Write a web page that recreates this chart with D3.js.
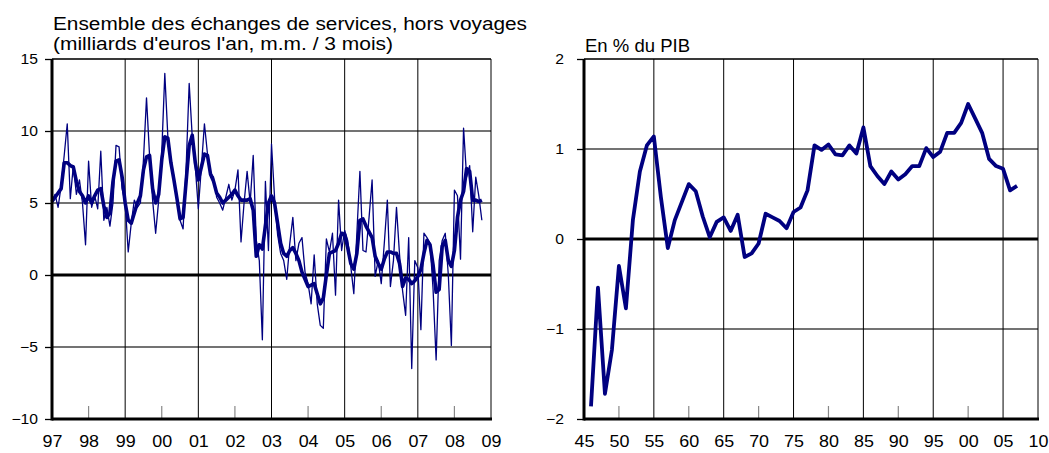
<!DOCTYPE html>
<html>
<head>
<meta charset="utf-8">
<script src="https://cdn.jsdelivr.net/npm/d3@7"></script>
<style>
  body { margin: 0; background: #fff; }
  svg text { font-family: "Liberation Sans", Arial, sans-serif; fill: #000; }
</style>
</head>
<body>
<svg id="chart" width="1049" height="453"></svg>
<script>
// monthly values, jan 1997 -> oct 2008 (milliards d'euros l'an)
var monthlyRaw = [
  5.1, 5.6, 4.7, 6.2, 8.3, 10.5, 5.3, 7.6, 5.6, 6.6, 5.0, 2.1,
  7.9, 4.7, 5.5, 4.6, 8.6, 3.8, 4.7, 3.4, 5.0, 9.0, 8.9, 6.0,
  5.0, 1.6, 3.6, 5.2, 4.7, 5.0, 8.0, 12.3, 8.3, 5.2, 2.9, 5.2,
  8.5, 14.0, 9.6, 8.0, 6.8, 5.2, 3.8, 3.2, 7.5, 13.3, 9.6, 7.5,
  4.6, 7.5, 10.5, 8.4, 7.1, 6.8, 5.4, 5.0, 4.5, 5.4, 6.3, 5.2,
  5.9, 7.3, 2.3, 5.0, 7.2, 5.0, 8.3, 2.4, 1.0, -4.5, 6.5, 1.7,
  9.1, 5.4, 2.8, 1.5, 1.0, -0.3, 2.2, 4.0, 1.0, 2.2, 2.6, 0.2,
  -0.6, -2.0, 1.4, -2.0, -3.5, -3.7, 2.5, 1.6, 2.9, -1.4, 5.2, 1.7,
  3.1, 2.4, 0.6, -1.3, 2.9, 7.2, 1.7, 1.6, 4.0, 6.6, -0.1, 1.0,
  -0.6, 2.2, 5.2, -0.8, 1.0, 4.7, 1.4, -1.1, -2.8, 2.6, -6.5, 1.0,
  0.5, -3.8, 2.9, 2.6, 2.2, -1.0, -5.9, 1.0, 2.4, 2.9, 0.0, -4.9,
  5.9, 5.5, 1.1, 10.2, 6.8, 7.6, 3.0, 6.8, 5.5, 3.8
];

// m.m. / 3 mois
var movingAvg = [
  5.1, 5.4, 5.7, 6.0, 7.8, 7.8, 7.6, 7.5, 6.5, 5.8, 5.5, 5.0,
  5.5, 5.0, 5.5, 5.9, 6.0, 4.8, 4.0, 4.3, 6.5, 7.9, 8.0, 6.8,
  5.0, 3.8, 3.6, 4.3, 5.0, 5.5, 7.3, 8.2, 8.3, 6.0, 5.0, 5.6,
  8.0, 9.6, 9.5, 7.8, 6.6, 5.3, 3.9, 4.0, 6.5, 9.0, 9.7, 7.8,
  6.6, 7.5, 8.4, 8.3, 7.0, 6.5, 5.7, 5.4, 5.0, 5.2, 5.4, 5.6,
  5.9, 5.5, 5.2, 5.2, 5.2, 5.3, 4.5, 1.3, 2.1, 1.8, 3.4, 5.0,
  5.5, 5.0, 3.6, 2.2, 1.5, 1.3, 1.7, 1.9, 1.5, 1.0, 0.2, -0.3,
  -0.8, -0.7, -0.6, -1.3, -2.0, -1.6, 0.0, 1.5, 1.6, 1.7, 2.2, 2.9,
  2.8, 1.9, 0.8, 0.4, 1.5, 3.8, 3.9, 3.4, 3.0, 2.6, 1.3, 0.8,
  0.4, 1.1, 1.6, 1.6, 1.5, 1.5, 0.8, -0.8, -0.2, -0.3, -0.6, -0.4,
  -0.1, 0.4, 1.5, 2.4, 2.1, 0.7, -1.2, -1.0, 2.0, 2.4, 1.0, 0.6,
  1.7, 4.0, 5.2, 5.8, 7.4, 7.2, 5.2, 5.2, 5.1, 5.2
];

// annual, en % du PIB, 1946 -> 2007
var pibYears = d3.range(1946, 2008);
var pibShare = [
  -1.86, -0.54, -1.72, -1.23, -0.30, -0.77, 0.21, 0.75, 1.04, 1.14,
  0.47, -0.10, 0.21, 0.41, 0.61, 0.53, 0.25, 0.02, 0.19, 0.24,
  0.09, 0.27, -0.20, -0.16, -0.05, 0.28, 0.24, 0.20, 0.12, 0.30,
  0.35, 0.54, 1.04, 0.99, 1.05, 0.94, 0.93, 1.04, 0.95, 1.24,
  0.81, 0.70, 0.61, 0.75, 0.66, 0.72, 0.81, 0.81, 1.01, 0.91,
  0.97, 1.18, 1.18, 1.29, 1.50, 1.34, 1.18, 0.89, 0.81, 0.78,
  0.54, 0.59
];

var leftYears = d3.range(1997, 2010);
var leftYearLabels = ["97","98","99","00","01","02","03","04","05","06","07","08","09"];
var leftYTicks = [-10, -5, 0, 5, 10, 15];
var rightYears = d3.range(1945, 2011, 5);
var rightYearLabels = ["45","50","55","60","65","70","75","80","85","90","95","00","05","10"];
var rightYTicks = [-2, -1, 0, 1, 2];

var svg = d3.select("svg#chart");
var navy = "#000080";
var stretch = 1.12; // the reference text is a bit wider than plain Arial

//scales
var xL = d3.scaleLinear().domain([1997, 2009]).range([52, 491]);
var yL = d3.scaleLinear().domain([-10, 15]).range([419, 59]);
var xR = d3.scaleLinear().domain([1945, 2010]).range([584, 1038]);
var yR = d3.scaleLinear().domain([-2, 2]).range([419, 59]);

function drawFrame(x, y, yTicks, years, labels, gridYears, shortYears, padY) {
  var g = svg.append("g");
  var x0 = x.range()[0], x1 = x.range()[1];
  var y0 = y.range()[0], y1 = y.range()[1];

  // horizontal grid
  g.selectAll("line.hg").data(yTicks.filter(function(d) { return d != 0 && y(d) != y0; }))
    .enter().append("line")
    .attr("x1", x0).attr("x2", x1)
    .attr("y1", function(d) { return y(d); }).attr("y2", function(d) { return y(d); })
    .attr("stroke", "#444").attr("stroke-width", 1.3);

  // vertical grid
  g.selectAll("line.vg").data(gridYears)
    .enter().append("line")
    .attr("x1", function(d) { return x(d); }).attr("x2", function(d) { return x(d); })
    .attr("y1", y1).attr("y2", y0)
    .attr("stroke", "#000").attr("stroke-width", 1);

  // short ticks from the bottom
  g.selectAll("line.st").data(shortYears)
    .enter().append("line")
    .attr("x1", function(d) { return x(d); }).attr("x2", function(d) { return x(d); })
    .attr("y1", y0 - 13).attr("y2", y0)
    .attr("stroke", "#888").attr("stroke-width", 1.2);

  // top and right border
  g.append("line").attr("x1", x0).attr("x2", x1).attr("y1", y1).attr("y2", y1)
    .attr("stroke", "#000").attr("stroke-width", 1);
  g.append("line").attr("x1", x1).attr("x2", x1).attr("y1", y1).attr("y2", y0)
    .attr("stroke", "#000").attr("stroke-width", 1);

  // zero line
  g.append("line").attr("x1", x0).attr("x2", x1).attr("y1", y(0)).attr("y2", y(0))
    .attr("stroke", "#000").attr("stroke-width", 3);

  // y axis labels
  var ay = svg.append("g").attr("transform", "translate(" + x0 + ",0)")
    .call(d3.axisLeft(y).tickValues(yTicks).tickSize(7).tickPadding(padY).tickFormat(d3.format("d")));
  ay.select(".domain").remove();
  ay.selectAll("line").attr("stroke", "#000").attr("stroke-width", 1.3);
  ay.selectAll("text").style("font-size", "14px")
    .attr("x", -(7 + padY) / stretch)
    .attr("transform", "scale(" + stretch + ",1)");

  // x axis labels
  var ax = svg.append("g").attr("transform", "translate(0," + y0 + ")")
    .call(d3.axisBottom(x).tickValues(years).tickSize(0).tickPadding(17)
      .tickFormat(function(d, i) { return labels[i]; }));
  ax.select(".domain").remove();
  ax.selectAll("text").style("font-size", "16px")
    .attr("transform", "scale(" + stretch + ",1)");
  return g;
}

drawFrame(xL, yL, leftYTicks, leftYears, leftYearLabels,
  [1999, 2001, 2003, 2005, 2007], [1998, 2000, 2002, 2004, 2006, 2008], 7);
drawFrame(xR, yR, rightYTicks, rightYears, rightYearLabels,
  [1955, 1965, 1975, 1985, 1995, 2005], [1950, 1960, 1970, 1980, 1990, 2000], 13);

//data lines
var monthDate = function(i) { return 1997 + i / 12; };

var lineRaw = d3.line()
  .x(function(d, i) { return xL(monthDate(i)); })
  .y(function(d) { return yL(d); });

svg.append("path").datum(monthlyRaw)
  .attr("d", lineRaw)
  .attr("fill", "none").attr("stroke", navy).attr("stroke-width", 1.3)
  .attr("stroke-linejoin", "round");

svg.append("path").datum(movingAvg)
  .attr("d", lineRaw)
  .attr("fill", "none").attr("stroke", navy).attr("stroke-width", 3.6)
  .attr("stroke-linejoin", "round");

var linePib = d3.line()
  .x(function(d, i) { return xR(pibYears[i]); })
  .y(function(d) { return yR(d); });

svg.append("path").datum(pibShare)
  .attr("d", linePib)
  .attr("fill", "none").attr("stroke", navy).attr("stroke-width", 3.8)
  .attr("stroke-linejoin", "round");

// thick axes on top
[[xL, yL], [xR, yR]].forEach(function(s) {
  var x = s[0], y = s[1];
  svg.append("line").attr("x1", x.range()[0]).attr("x2", x.range()[0])
    .attr("y1", y.range()[1]).attr("y2", y.range()[0] + 1.5)
    .attr("stroke", "#000").attr("stroke-width", 3);
  svg.append("line").attr("x1", x.range()[0]).attr("x2", x.range()[1] + 1)
    .attr("y1", y.range()[0]).attr("y2", y.range()[0])
    .attr("stroke", "#000").attr("stroke-width", 3);
});

//titles, stretched to the reference widths
function title(x, y, w, s) {
  svg.append("text").attr("x", x).attr("y", y).style("font-size", "17.5px")
    .attr("textLength", w).attr("lengthAdjust", "spacingAndGlyphs")
    .text(s);
}
title(53, 30, 474, "Ensemble des échanges de services, hors voyages");
title(53, 50, 340, "(milliards d'euros l'an, m.m. / 3 mois)");
title(585, 52, 105, "En % du PIB");
</script>
</body>
</html>
